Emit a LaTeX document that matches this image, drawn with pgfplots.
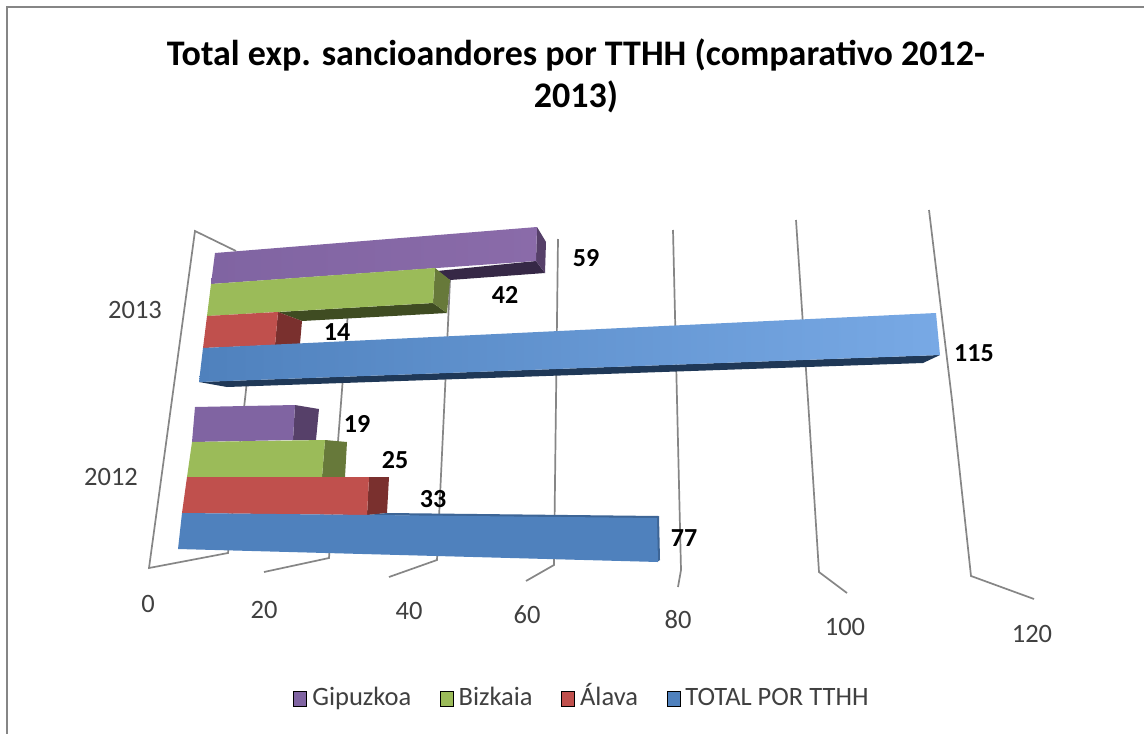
\documentclass[border=0pt]{standalone}
\usepackage{fontspec}
\setmainfont{Carlito}
\usepackage{pgfplots}
\usepackage{pgfplotstable}
\pgfplotsset{compat=1.18}

\definecolor{gridc}{HTML}{868686}
\definecolor{txt}{HTML}{404040}
\definecolor{pur}{HTML}{8064A2}
\definecolor{purL}{HTML}{8A6BA9}
\definecolor{purS}{HTML}{564069}
\definecolor{purD}{HTML}{362846}
\definecolor{gre}{HTML}{9BBB59}
\definecolor{greS}{HTML}{67793A}
\definecolor{greD}{HTML}{3F4C22}
\definecolor{red1}{HTML}{C0504D}
\definecolor{redS}{HTML}{7A302E}
\definecolor{blu}{HTML}{4F81BD}
\definecolor{bluL}{HTML}{78A9E5}
\definecolor{bluD}{HTML}{1F3857}
\definecolor{bluT}{HTML}{3D6596}

% value labels, placed where the perspective puts them (pixels)
\pgfplotstableread{
x y value
586 258 59
505 295 42
337 332 14
974 353 115
357 424 19
395 460 25
433 499 33
684 538 77
}\valuelabels

\pgfplotstableread{
x y tick
148 604 0
264 610 20
409 611 40
527 615 60
678 620 80
845 627 100
1032 634 120
}\ticklabels

\pgfplotstableread{
x y year
135 310 2013
111 477 2012
}\yearlabels

\begin{document}
\begin{tikzpicture}
\begin{axis}[
  width=1144pt, height=734pt, scale only axis,
  xmin=0, xmax=1144, ymin=0, ymax=734, y dir=reverse,
  hide axis,
  legend columns=4,
  legend style={at={(axis cs:581,699)}, anchor=center, draw=none, fill=none,
    font=\fontsize{26.5}{30}\selectfont\color{txt}, inner sep=0pt,
    nodes={text height=17pt, text depth=5pt, inner sep=0pt},
    /tikz/every odd column/.append style={column sep=5.5pt},
    /tikz/every even column/.append style={column sep=28.5pt}},
  legend cell align=left,
  legend image code/.code={\fill[#1] (0pt,-7.5pt) rectangle (13pt,7.5pt);},
  gl/.style={draw=gridc, line width=1.7pt, forget plot},
  bar/.style={draw=none, forget plot},
]
% page background
\addplot[fill=white, draw=none, forget plot] coordinates {(0,0) (1144,0) (1144,734) (0,734)} -- cycle;
% chart frame (top and left only are visible)
\addplot[gl, line width=2.5pt] coordinates {(7,734) (7,7) (1144,7)};

% walls and floor
\addplot[gl] coordinates {(236,251) (195,231) (149,568) (228,553) (246,390) (255,300)};
\addplot[gl] coordinates {(264,572) (329,558) (342,390) (352,260)};
\addplot[gl] coordinates {(389,577) (437,560) (445,390) (450,280)};
\addplot[gl] coordinates {(526,581) (554,565) (556,400) (558,239)};
\addplot[gl] coordinates {(678,587) (681,570) (677,400) (673,230)};
\addplot[gl] coordinates {(847,593) (819,572) (808,400) (796,220)};
\addplot[gl] coordinates {(1034,599) (971,576) (952,400) (929,210)};

% 2013: Gipuzkoa
\addplot[bar, fill=purD] coordinates {(536,261) (545,273) (450,280) (437,271)} -- cycle;
\addplot[bar, fill=purS] coordinates {(537,227) (546,242) (545,273) (536,261)} -- cycle;
\addplot[bar, left color=pur, right color=purL] coordinates {(215,253) (537,227) (536,261) (211,284)} -- cycle;
% 2013: Bizkaia
\addplot[bar, fill=greD] coordinates {(433,303) (447,313) (302,321) (278,312)} -- cycle;
\addplot[bar, fill=greS] coordinates {(435,268) (450,280) (447,313) (433,303)} -- cycle;
\addplot[bar, fill=gre] coordinates {(211,284) (435,268) (433,303) (207,316)} -- cycle;
% 2013: Alava
\addplot[bar, fill=redS] coordinates {(278,312) (302,321) (300,344) (275,345)} -- cycle;
\addplot[bar, fill=red1] coordinates {(207,316) (278,312) (275,345) (203,348)} -- cycle;
% 2013: total
\addplot[bar, fill=bluD] coordinates {(199,382) (940,355) (923,363) (227,387)} -- cycle;
\addplot[bar, left color=blu, right color=bluL] coordinates {(203,348) (936,313) (940,355) (199,382)} -- cycle;

% 2012: Gipuzkoa
\addplot[bar, fill=purS] coordinates {(295,405) (319,409) (316,440) (293,440)} -- cycle;
\addplot[bar, fill=pur] coordinates {(195,407) (295,405) (293,440) (192,442)} -- cycle;
% 2012: Bizkaia
\addplot[bar, fill=greS] coordinates {(325,440) (347,442) (345,477) (322,477)} -- cycle;
\addplot[bar, fill=gre] coordinates {(192,442) (325,440) (322,477) (187,477)} -- cycle;
% 2012: Alava
\addplot[bar, fill=redS] coordinates {(369,477) (389,477) (387,513) (367,515)} -- cycle;
\addplot[bar, fill=red1] coordinates {(187,477) (369,477) (367,515) (182,513)} -- cycle;
% 2012: total
\addplot[bar, fill=bluT] coordinates {(367,515) (387,513) (659,516) (656,520)} -- cycle;
\addplot[bar, fill=bluT] coordinates {(656,518) (659,516) (660,560) (657,562)} -- cycle;
\addplot[bar, fill=blu] coordinates {(182,513) (657,518) (658,562) (178,549)} -- cycle;

% text
\addplot[only marks, mark=none, forget plot, point meta=explicit symbolic,
  nodes near coords={\pgfplotspointmeta},
  every node near coord/.style={anchor=center, inner sep=0pt, text=black,
    font=\fontsize{26}{30}\selectfont\bfseries}]
  table[x=x, y=y, meta=value] {\valuelabels};
\addplot[only marks, mark=none, forget plot, point meta=explicit symbolic,
  nodes near coords={\pgfplotspointmeta},
  every node near coord/.style={anchor=center, inner sep=0pt, text=txt,
    font=\fontsize{26.5}{30}\selectfont}]
  table[x=x, y=y, meta=tick] {\ticklabels};
\addplot[only marks, mark=none, forget plot, point meta=explicit symbolic,
  nodes near coords={\pgfplotspointmeta},
  every node near coord/.style={anchor=center, inner sep=0pt, text=txt,
    font=\fontsize{26.5}{30}\selectfont}]
  table[x=x, y=y, meta=year] {\yearlabels};

\node[align=center, text=black, font=\fontsize{36}{42}\selectfont\bfseries]
  at (axis cs:576,76) {Total exp. sancioandores por TTHH (comparativo 2012-\\2013)};

% legend
\addlegendimage{fill=pur}\addlegendentry{Gipuzkoa}
\addlegendimage{fill=gre}\addlegendentry{Bizkaia}
\addlegendimage{fill=red1}\addlegendentry{Álava}
\addlegendimage{fill=blu}\addlegendentry{TOTAL POR TTHH}
\end{axis}
\end{tikzpicture}
\end{document}
